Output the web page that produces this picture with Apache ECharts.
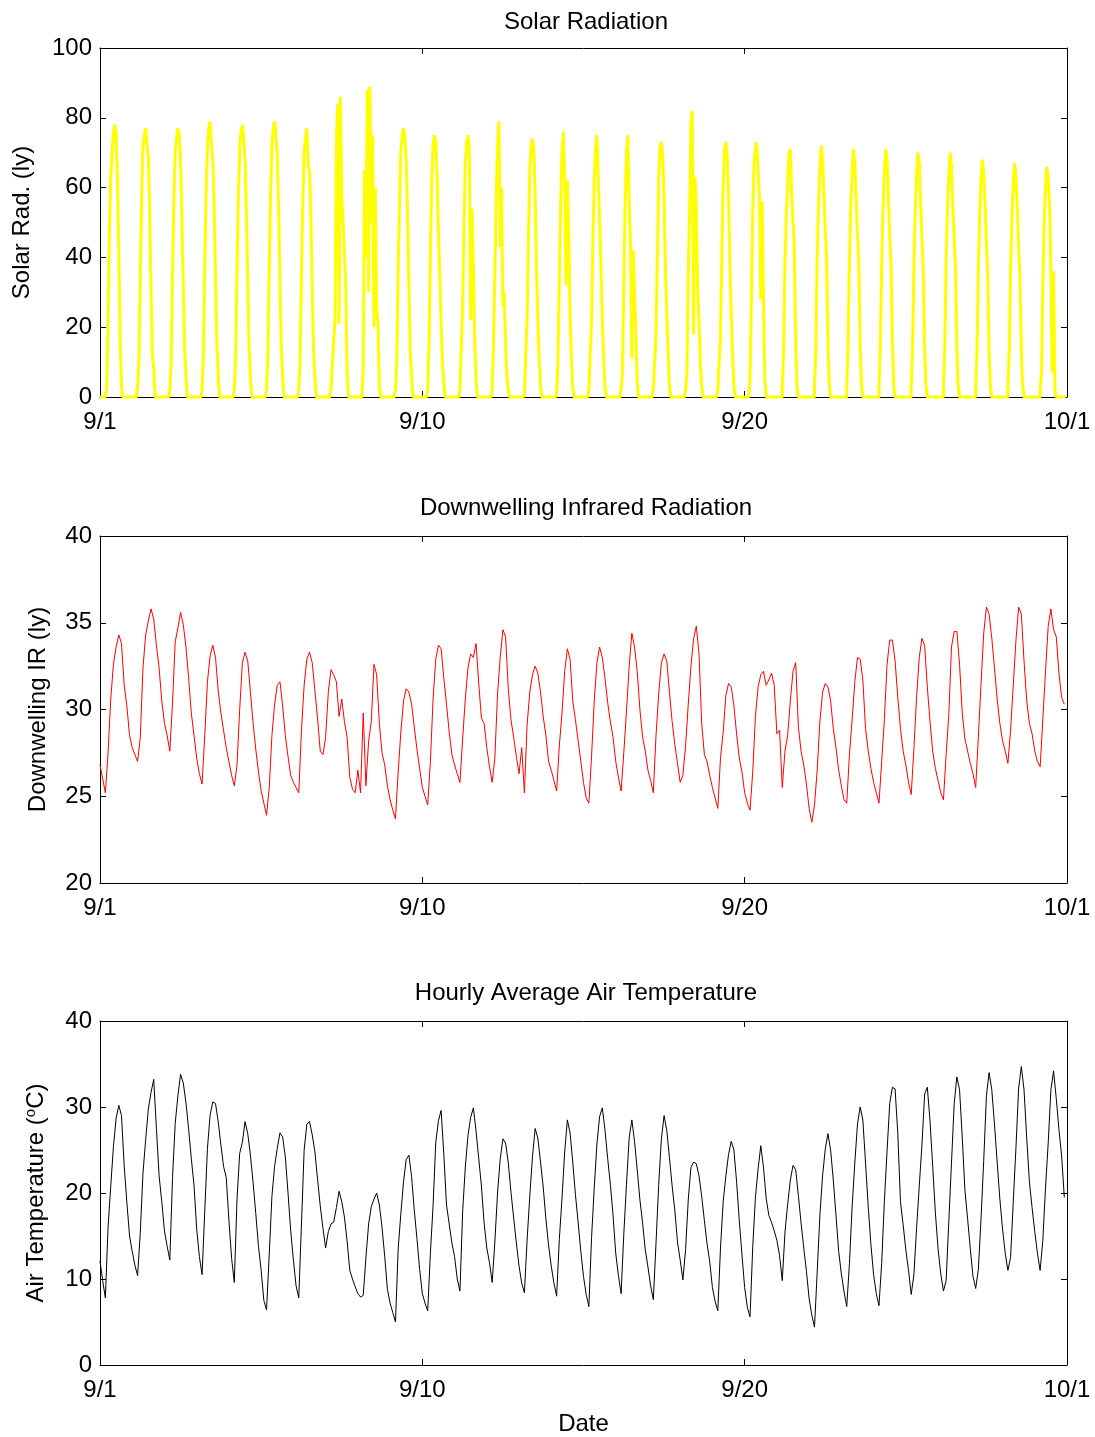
<!DOCTYPE html>
<html><head><meta charset="utf-8">
<script src="https://cdn.jsdelivr.net/npm/echarts/dist/echarts.min.js"></script>
<style>html,body{margin:0;padding:0;background:#fff}#c{width:1095px;height:1437px}</style>
</head><body><div id="c"></div>
<script>
// x axis: days since 9/1 00:00
const xTickValues = [0, 10, 20, 30];
const xTickLabels = ['9/1', '9/10', '9/20', '10/1'];

// Solar radiation (ly), hourly values h0..h23, one row per day
const solarRad = [
[0,0,0,0,1,2,22,48,63,70,76,78,75,62,42,17,3,0,0,0,0,0,0,0],
[0,0,0,0,3,11,34,57,72,75,77,72,69,53,31,12,8,0,0,0,0,0,0,0],
[0,0,0,0,2,10,36,56,70,74,77,75,68,52,32,14,6,0,0,0,0,0,0,0],
[0,0,0,0,2,12,38,58,72,77,79,72,68,55,34,15,6,0,0,0,0,0,0,0],
[0,0,0,0,2,11,36,57,71,76,78,74,68,53,33,14,6,0,0,0,0,0,0,0],
[0,0,0,0,2,12,37,58,72,77,79,75,69,54,33,14,6,0,0,0,0,0,0,0],
[0,0,0,0,2,11,35,56,70,74,77,66,65,52,32,13,6,0,0,0,0,0,0,0],
[0,0,0,0,2,9,16,22,73,84,21,86,58,50,41,31,7,0,0,0,0,0,0,0],
[0,0,0,0,8,65,40,88,30,89,50,75,20,60,25,21,3,0,0,0,0,0,0,0],
[0,0,0,0,2,11,36,56,70,75,77,74,68,52,32,13,6,0,0,0,0,0,0,0],
[0,0,0,0,2,15,41,62,72,75,73,63,47,35,21,10,4,0,0,0,0,0,0,0],
[0,0,0,0,2,14,26,49,67,73,75,71,22,54,37,16,5,0,0,0,0,0,0,0],
[0,0,0,0,2,15,36,57,72,79,43,60,26,30,14,6,2,0,0,0,0,0,0,0],
[0,0,0,0,1,12,23,45,65,72,74,71,58,37,22,11,3,0,0,0,0,0,0,0],
[0,0,0,0,1,10,34,55,70,76,63,32,62,47,23,11,3,0,0,0,0,0,0,0],
[0,0,0,0,2,12,22,45,62,71,75,63,50,38,22,11,3,0,0,0,0,0,0,0],
[0,0,0,0,2,7,32,55,70,75,55,44,11,42,30,18,4,0,0,0,0,0,0,0],
[0,0,0,0,2,10,18,41,62,72,73,69,57,36,24,13,3,0,0,0,0,0,0,0],
[0,0,0,0,2,7,36,53,79,82,18,63,55,30,22,10,3,0,0,0,0,0,0,0],
[0,0,0,0,2,10,17,42,61,71,73,69,58,38,24,12,3,0,0,0,0,0,0,0],
[0,0,0,0,5,28,53,67,71,73,65,57,28,56,27,5,0,0,0,0,0,0,0,0],
[0,0,0,0,3,13,39,52,61,70,71,58,50,42,15,3,0,0,0,0,0,0,0,0],
[0,0,0,0,3,14,40,55,65,72,68,58,48,40,16,3,0,0,0,0,0,0,0,0],
[0,0,0,0,3,15,39,55,64,71,67,57,46,38,15,3,0,0,0,0,0,0,0,0],
[0,0,0,0,3,14,38,54,64,71,68,58,46,38,16,3,0,0,0,0,0,0,0,0],
[0,0,0,0,3,13,38,53,63,70,67,56,45,36,14,3,0,0,0,0,0,0,0,0],
[0,0,0,0,3,14,39,54,63,70,66,55,45,37,14,3,0,0,0,0,0,0,0,0],
[0,0,0,0,3,13,37,52,62,68,64,55,44,35,13,3,0,0,0,0,0,0,0,0],
[0,0,0,0,3,13,37,51,61,67,63,54,43,34,13,3,0,0,0,0,0,0,0,0],
[0,0,0,0,2,7,32,50,60,66,62,56,36,7,36,2,0,0,0,0,0,0,0,0]
];

// Downwelling IR (ly), 2-hourly values h0,h2,...,h22, one row per day
const irRad = [
[26.8,26.0,25.2,27.5,30.6,32.6,33.6,34.3,33.8,31.4,30.2,28.5],
[27.8,27.4,27.0,28.4,32.4,34.3,35.1,35.8,35.2,33.7,32.4,30.5],
[29.2,28.5,27.6,30.4,33.9,34.7,35.6,34.9,33.6,31.8,29.8,28.5],
[27.2,26.3,25.7,28.5,31.6,33.1,33.7,33.0,31.1,29.8,28.8,27.8],
[27.0,26.2,25.6,26.8,30.0,32.7,33.3,32.8,31.0,29.2,27.7,26.4],
[25.3,24.6,23.9,25.5,28.5,30.3,31.4,31.6,30.2,28.5,27.3,26.2],
[25.8,25.5,25.2,28.8,31.4,32.9,33.3,32.7,31.1,29.5,27.6,27.4],
[28.4,31.0,32.3,32.0,31.6,29.6,30.6,29.3,28.4,26.1,25.4,25.2],
[26.5,25.2,29.8,25.6,28.2,29.3,32.6,32.0,29.2,27.5,26.8,25.6],
[24.8,24.2,23.7,26.4,28.7,30.5,31.2,31.0,30.3,29.0,27.7,26.6],
[25.5,25.0,24.5,27.0,30.6,32.9,33.7,33.5,31.8,30.3,28.7,27.4],
[26.8,26.3,25.8,28.3,30.6,32.4,33.2,33.0,33.8,31.5,29.5,29.2],
[27.8,26.7,25.8,27.2,30.9,33.0,34.6,34.2,31.2,29.4,28.4,27.3],
[26.3,27.8,25.2,29.1,31.0,32.0,32.5,32.1,31.0,29.6,28.5,27.0],
[26.5,25.9,25.3,27.9,29.8,32.2,33.5,32.9,30.5,29.4,28.2,27.0],
[25.8,24.9,24.6,27.3,30.5,32.7,33.6,33.0,31.8,30.4,29.3,28.4],
[27.0,26.1,25.3,27.5,29.9,32.5,34.4,33.6,32.2,30.0,28.4,27.6],
[26.5,25.9,25.2,28.5,30.9,32.7,33.2,32.8,31.0,29.3,28.0,26.9],
[25.8,26.2,27.9,30.3,32.5,34.1,34.8,33.2,29.2,27.4,27.0,26.2],
[25.5,24.9,24.3,27.2,28.7,30.8,31.5,31.3,30.2,28.6,27.2,26.4],
[25.2,24.6,24.2,26.4,29.6,31.3,32.0,32.2,31.4,31.7,32.1,31.4],
[28.6,28.8,25.5,27.6,28.5,30.5,32.2,32.7,29.0,27.6,26.8,25.7],
[24.3,23.5,24.5,26.5,29.3,31.0,31.5,31.3,30.5,28.9,27.8,26.5],
[25.6,24.8,24.6,27.4,29.4,31.6,33.0,32.9,31.7,28.9,27.6,26.6],
[25.8,25.2,24.6,27.0,29.4,32.6,34.0,34.0,32.8,30.7,28.9,27.6],
[26.8,25.8,25.1,27.7,30.7,33.0,34.1,33.7,31.3,29.3,27.6,26.6],
[25.9,25.2,24.8,27.4,29.7,33.6,34.5,34.5,32.6,29.8,28.3,27.6],
[26.9,26.3,25.5,28.4,31.5,34.4,35.9,35.5,34.1,32.4,30.6,29.2],
[28.2,27.6,26.9,28.8,31.4,34.0,35.9,35.5,32.8,30.5,29.2,28.6],
[27.6,27.0,26.7,29.4,32.2,34.8,35.8,34.6,34.2,32.1,30.7,30.3]
];

// Hourly average air temperature (deg C), 2-hourly values h0,h2,...,h22
const airTemp = [
[12.1,9.8,7.8,16.0,20.8,25.4,28.7,30.2,29.0,23.2,18.9,15.0],
[13.2,11.6,10.4,15.4,22.3,26.2,29.8,31.7,33.2,27.5,22.0,19.0],
[15.6,13.8,12.2,21.8,28.1,31.3,33.8,32.8,30.5,27.4,24.0,20.9],
[15.8,12.6,10.5,17.9,25.2,29.1,30.6,30.4,28.3,25.6,23.1,21.8],
[16.8,12.4,9.6,19.2,24.6,25.9,28.3,26.9,24.4,21.2,17.6,13.8],
[11.0,7.5,6.4,12.8,19.6,23.1,25.2,27.0,26.5,24.2,20.0,15.6],
[12.2,9.2,7.8,16.4,25.0,28.0,28.3,26.8,24.8,21.6,18.5,15.9],
[13.6,15.5,16.4,16.6,18.3,20.2,19.0,17.2,14.4,11.0,10.0,9.1],
[8.3,7.9,8.1,12.5,16.4,18.4,19.3,20.0,18.6,16.0,12.6,8.8],
[7.2,6.1,5.0,13.5,17.6,21.3,23.9,24.4,21.9,18.0,14.7,11.1],
[8.3,7.2,6.3,13.0,18.5,25.9,28.4,29.6,24.5,18.6,16.4,14.2],
[12.6,10.0,8.6,17.8,23.0,26.7,28.8,29.9,27.2,24.0,20.8,16.5],
[13.6,11.9,9.6,14.3,20.0,24.0,26.3,25.8,23.5,20.1,17.1,14.2],
[11.5,9.5,8.4,14.5,19.6,24.2,27.5,26.4,23.6,20.7,17.0,13.9],
[11.5,9.5,8.0,14.6,19.4,24.8,28.5,27.0,23.6,19.8,16.6,13.2],
[10.3,8.2,6.8,14.8,20.6,25.7,28.9,29.9,27.3,24.0,21.0,17.4],
[13.0,10.4,8.3,15.2,21.0,26.4,28.5,26.0,22.7,19.2,16.5,13.4],
[11.4,9.2,7.6,14.2,21.0,26.3,29.0,27.3,24.1,20.8,18.0,14.3],
[12.2,9.9,13.4,19.2,23.0,23.6,23.4,22.0,19.6,16.8,14.1,12.0],
[9.0,7.4,6.3,13.6,19.0,22.0,24.5,26.0,25.0,21.3,16.8,12.8],
[9.0,6.7,5.6,13.7,19.5,22.8,25.5,23.0,19.4,17.4,16.6,15.6],
[14.5,12.7,9.8,15.4,18.7,21.5,23.2,22.7,19.7,16.5,13.6,10.9],
[7.7,5.8,4.4,10.8,17.4,22.0,25.1,26.9,25.0,21.5,17.4,13.2],
[10.6,8.5,6.8,11.8,18.4,23.5,28.0,30.0,28.5,23.5,18.4,14.0],
[10.5,8.3,6.9,11.8,19.0,24.8,30.4,32.3,32.1,27.0,19.0,16.3],
[13.4,11.0,8.2,10.5,15.9,20.8,25.6,31.5,32.3,28.4,23.1,17.7],
[13.5,10.6,8.6,9.8,16.7,23.5,30.4,33.5,32.0,26.5,20.3,17.0],
[13.5,10.3,8.9,11.1,17.0,23.8,31.3,34.0,32.0,28.0,23.6,19.3],
[15.8,13.0,11.0,12.5,19.0,25.3,32.2,34.7,32.0,26.4,21.3,18.3],
[15.5,13.0,11.0,14.5,20.6,25.8,32.0,34.2,31.0,27.4,24.3,19.5]
];

function toPairs(rows, hoursPerSample) {
  const out = [];
  rows.forEach((row, d) => row.forEach((v, k) => out.push([d + k * hoursPerSample / 24, v])));
  return out;
}

const FONT = "'Liberation Sans', Arial, sans-serif";
const FS = 24;
const grids = [
  {left: 100, top: 48, width: 967, height: 349},
  {left: 100, top: 536, width: 967, height: 347},
  {left: 100, top: 1021, width: 967, height: 348}
];
const yRanges = [[0, 100, 20], [20, 40, 5], [0, 40, 10]];
const yNames = [
  {name: 'Solar Rad. (ly)', gap: 66},
  {name: 'Downwelling IR (ly)', gap: 50},
  {name: '{n|Air Temperature (}{s|o}{n|C)}', gap: 50}
];
const titles = [
  {text: 'Solar Radiation', top: 5},
  {text: 'Downwelling Infrared Radiation', top: 491},
  {text: 'Hourly Average Air Temperature', top: 976}
];

const axisLine = {show: true, onZero: false, lineStyle: {color: '#000', width: 1}};
const tick = {show: true, inside: true, length: 6, lineStyle: {color: '#000', width: 1}};
const xFmt = v => { const i = xTickValues.indexOf(v); return i >= 0 ? xTickLabels[i] : ''; };

const xAxes = [], yAxes = [];
grids.forEach((g, i) => {
  xAxes.push({gridIndex: i, type: 'value', position: 'bottom', min: 0, max: 30, interval: 10,
    axisLine, axisTick: tick, splitLine: {show: false},
    axisLabel: {formatter: xFmt, color: '#000', fontFamily: FONT, fontSize: FS, margin: 13},
    name: i === 2 ? 'Date' : '', nameLocation: 'middle', nameGap: 47,
    nameTextStyle: {color: '#000', fontFamily: FONT, fontSize: FS}});
  xAxes.push({gridIndex: i, type: 'value', position: 'top', min: 0, max: 30, interval: 10,
    axisLine, axisTick: tick, splitLine: {show: false}, axisLabel: {show: false}});
  const r = yRanges[i];
  yAxes.push({gridIndex: i, type: 'value', position: 'left', min: r[0], max: r[1], interval: r[2],
    axisLine, axisTick: tick, splitLine: {show: false},
    axisLabel: {color: '#000', fontFamily: FONT, fontSize: FS, margin: 8},
    name: yNames[i].name, nameLocation: 'middle', nameGap: yNames[i].gap, nameRotate: 90,
    nameTextStyle: {color: '#000', fontFamily: FONT, fontSize: FS,
      rich: {n: {color: '#000', fontFamily: FONT, fontSize: FS},
             s: {color: '#000', fontFamily: FONT, fontSize: 15, verticalAlign: 'top', padding: [0, 0, 12, 0]}}}});
  yAxes.push({gridIndex: i, type: 'value', position: 'right', min: r[0], max: r[1], interval: r[2],
    axisLine, axisTick: tick, splitLine: {show: false}, axisLabel: {show: false}});
});

const chart = echarts.init(document.getElementById('c'), null, {renderer: 'canvas'});
chart.setOption({
  animation: false,
  backgroundColor: '#fff',
  title: titles.map(t => ({text: t.text, left: 581, top: t.top, textAlign: 'center',
    textStyle: {color: '#000', fontFamily: FONT, fontSize: FS, fontWeight: 'normal'}})),
  grid: grids,
  xAxis: xAxes,
  yAxis: yAxes,
  series: [
    {type: 'line', xAxisIndex: 0, yAxisIndex: 0, data: toPairs(solarRad, 1), showSymbol: false,
      step: 'end', clip: false, lineStyle: {color: '#ffff00', width: 3}, itemStyle: {color: '#ffff00'}},
    {type: 'line', xAxisIndex: 2, yAxisIndex: 2, data: toPairs(irRad, 2), showSymbol: false,
      lineStyle: {color: '#ff0000', width: 1}, itemStyle: {color: '#ff0000'}},
    {type: 'line', xAxisIndex: 4, yAxisIndex: 4, data: toPairs(airTemp, 2), showSymbol: false,
      lineStyle: {color: '#000000', width: 1}, itemStyle: {color: '#000'}}
  ]
});
</script></body></html>
